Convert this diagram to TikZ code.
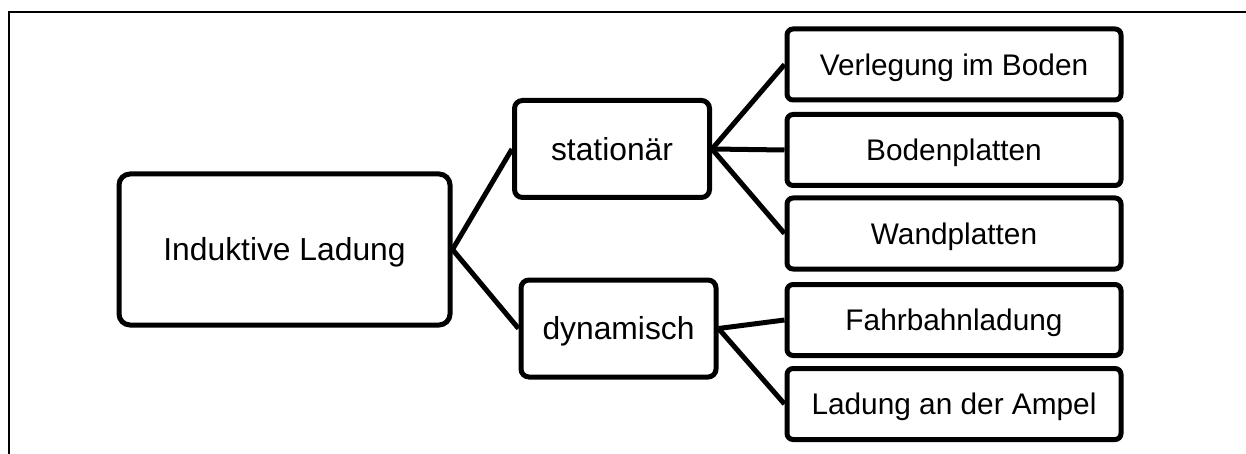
\documentclass[tikz,border=0pt]{standalone}
\usepackage{fontspec}
\setmainfont{Liberation Sans}
\begin{document}
\begin{tikzpicture}[x=1pt,y=-1pt,
  box/.style={draw=black,line width=5pt,inner sep=0pt,align=center,text depth=0pt},
  bigfont/.style={font=\fontsize{31.8}{36}\selectfont,text height=22.8pt},
  smallfont/.style={font=\fontsize{29.8}{34}\selectfont,text height=21.3pt},
  mainbox/.style={box,bigfont,rounded corners=11pt,minimum width=331pt,minimum height=151pt},
  midbox/.style={box,bigfont,rounded corners=8pt,minimum width=195pt,minimum height=97pt},
  leafbox/.style={box,smallfont,rounded corners=6pt,minimum width=334pt,minimum height=71pt},
  link/.style={line width=5pt,black}
]
\useasboundingbox (0,0) rectangle (1246,454);
\draw[line width=2.2pt] (9.3,454) -- (9.3,12) -- (1246,12);

\node[mainbox] (root) at (284.5,249.5) {Induktive Ladung};
\node[midbox] (stat) at (612,149) {stationär};
\node[midbox] (dyn) at (618.5,328.5) {dynamisch};

\node[leafbox] (l1) at (954,64.5) {Verlegung im Boden};
\node[leafbox] (l2) at (954,150) {Bodenplatten};
\node[leafbox] (l3) at (954,233.5) {Wandplatten};
\node[leafbox] (l4) at (954,320) {Fahrbahnladung};
\node[leafbox] (l5) at (954,404) {Ladung an der Ampel};

\draw[link] (root.east) -- (stat.west);
\draw[link] (root.east) -- (dyn.west);
\draw[link] (stat.east) -- (l1.west);
\draw[link] (stat.east) -- (l2.west);
\draw[link] (stat.east) -- (l3.west);
\draw[link] (dyn.east) -- (l4.west);
\draw[link] (dyn.east) -- (l5.west);
\end{tikzpicture}
\end{document}
